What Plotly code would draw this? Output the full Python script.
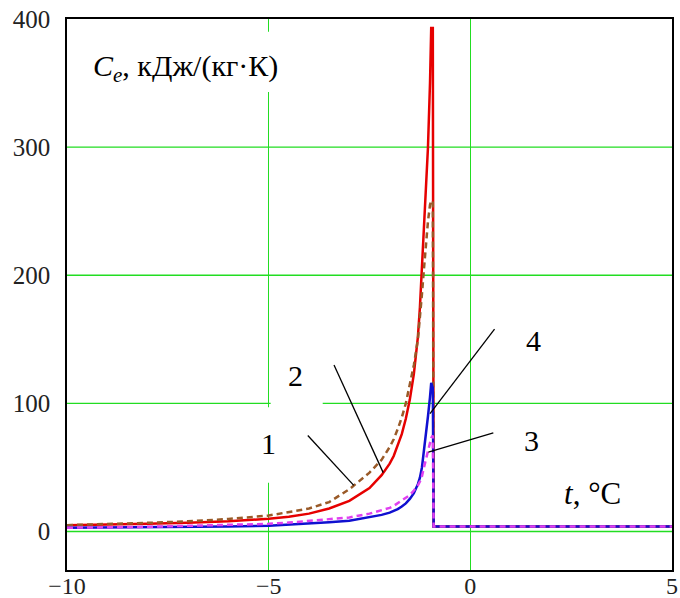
import plotly.graph_objects as go

# temperature grid (°C)
t = [-10, -9, -8, -7, -6, -5, -4.5, -4, -3.5, -3, -2.5, -2.2, -2, -1.9, -1.8, -1.7, -1.6,
     -1.5, -1.4, -1.3, -1.25, -1.2, -1.15, -1.1, -1.05, -1.0, -0.97, -0.93, -0.91, 5]

# curve 1 (brown dashed)
c1 = [5, 5.8, 6.8, 8, 9.8, 12.5, 15, 18, 23, 33, 46, 56, 66, 72, 80, 89, 100,
      114, 130, 150, 165, 185, 205, 225, 242, 255, 258, 258, 4, 4]
# curve 2 (red solid)
c2 = [5, 5.3, 6, 6.8, 8, 10, 11.5, 14, 18, 24, 34, 44, 53, 59, 67, 76, 88,
      103, 123, 152, 175, 205, 235, 260, 300, 350, 393, 393, 4, 4]
# curve 3 (magenta dashed)
c3 = [3, 3.3, 3.7, 4.5, 5.2, 6, 7, 8.3, 9.5, 11, 14, 16.5, 18.5, 20, 22, 24, 26,
      28.5, 32, 36, 39, 43, 50, 57, 63, 69, 73, 75, 4, 4]
# curve 4 (blue solid)
c4 = [3, 3.1, 3.2, 3.5, 3.9, 4.5, 5.3, 6.3, 7.3, 8.5, 11, 13, 14.8, 16, 17.5, 19.5, 22,
      25.5, 30, 37, 42, 50, 62, 76, 90, 105, 116, 112, 4, 4]

x_ticks = [-10, -5, 0, 5]
y_ticks = [0, 100, 200, 300, 400]

FONT = "Liberation Serif"
GRID = "#22dd22"

fig = go.Figure()
fig.add_trace(go.Scatter(x=t, y=c2, mode="lines",
                         line=dict(color="#e60000", width=2.5), name="2"))
fig.add_trace(go.Scatter(x=t, y=c1, mode="lines",
                         line=dict(color="#9a5a28", width=2.5, dash="6px,4px"), name="1"))
fig.add_trace(go.Scatter(x=t, y=c4, mode="lines",
                         line=dict(color="#1010d0", width=2.5), name="4"))
fig.add_trace(go.Scatter(x=t, y=c3, mode="lines",
                         line=dict(color="#e040f0", width=2.5, dash="6px,4px"), name="3"))

shapes = []
# horizontal grid lines (green)
for yv in y_ticks[:-1]:
    shapes.append(dict(type="line", xref="paper", yref="y", x0=0, x1=1, y0=yv, y1=yv,
                       line=dict(color=GRID, width=1.4), layer="between"))
# white masks over gridlines behind labels
for x0, x1, y0, y1 in [(-9.43, -4.4, 343, 390), (-4.95, -3.66, 97, 140), (-5.3, -4.6, 38, 97)]:
    shapes.append(dict(type="rect", xref="x", yref="y", x0=x0, x1=x1, y0=y0, y1=y1,
                       fillcolor="white", line=dict(width=0), layer="between"))
# leader lines
for x0, y0, x1, y1 in [(-3.38, 130, -2.16, 46), (-4.03, 75, -2.89, 36),
                       (0.6, 158, -1.0, 92), (0.57, 77, -1.04, 62)]:
    shapes.append(dict(type="line", xref="x", yref="y", x0=x0, y0=y0, x1=x1, y1=y1,
                       line=dict(color="black", width=1.3), layer="above"))

annotations = [
    dict(x=-9.4, y=362, text="<i>C<sub>e</sub></i>, кДж/(кг·К)", xanchor="left", size=30),
    dict(x=-4.33, y=122, text="2", size=30),
    dict(x=-5.0, y=69, text="1", size=30),
    dict(x=1.57, y=149, text="4", size=30),
    dict(x=1.52, y=71, text="3", size=30),
    dict(x=3.03, y=30, text="<i>t</i>, °C", size=31),
]
for a in annotations:
    s = a.pop("size")
    a.update(xref="x", yref="y", showarrow=False,
             font=dict(family=FONT, size=s, color="black"))

fig.update_layout(
    width=680, height=598,
    margin=dict(l=67, r=8, t=19, b=28),
    paper_bgcolor="white", plot_bgcolor="white",
    showlegend=False,
    shapes=shapes, annotations=annotations,
    font=dict(family=FONT, size=24, color="#222"),
)
fig.update_xaxes(range=[-10, 5], tickvals=x_ticks, showgrid=True, gridcolor=GRID,
                 gridwidth=1.4, zeroline=False, showline=True, linecolor="black",
                 linewidth=1.5, mirror=True, ticks="", tickfont=dict(size=24),
                 automargin=False, ticklabelstandoff=-7)
fig.update_yaxes(range=[-30, 400], tickvals=y_ticks, showgrid=False,
                 zeroline=False, showline=True, linecolor="black",
                 linewidth=1.5, mirror=True, ticks="", tickfont=dict(size=25),
                 automargin=False, ticklabelstandoff=10)

fig.write_html("out.html")
